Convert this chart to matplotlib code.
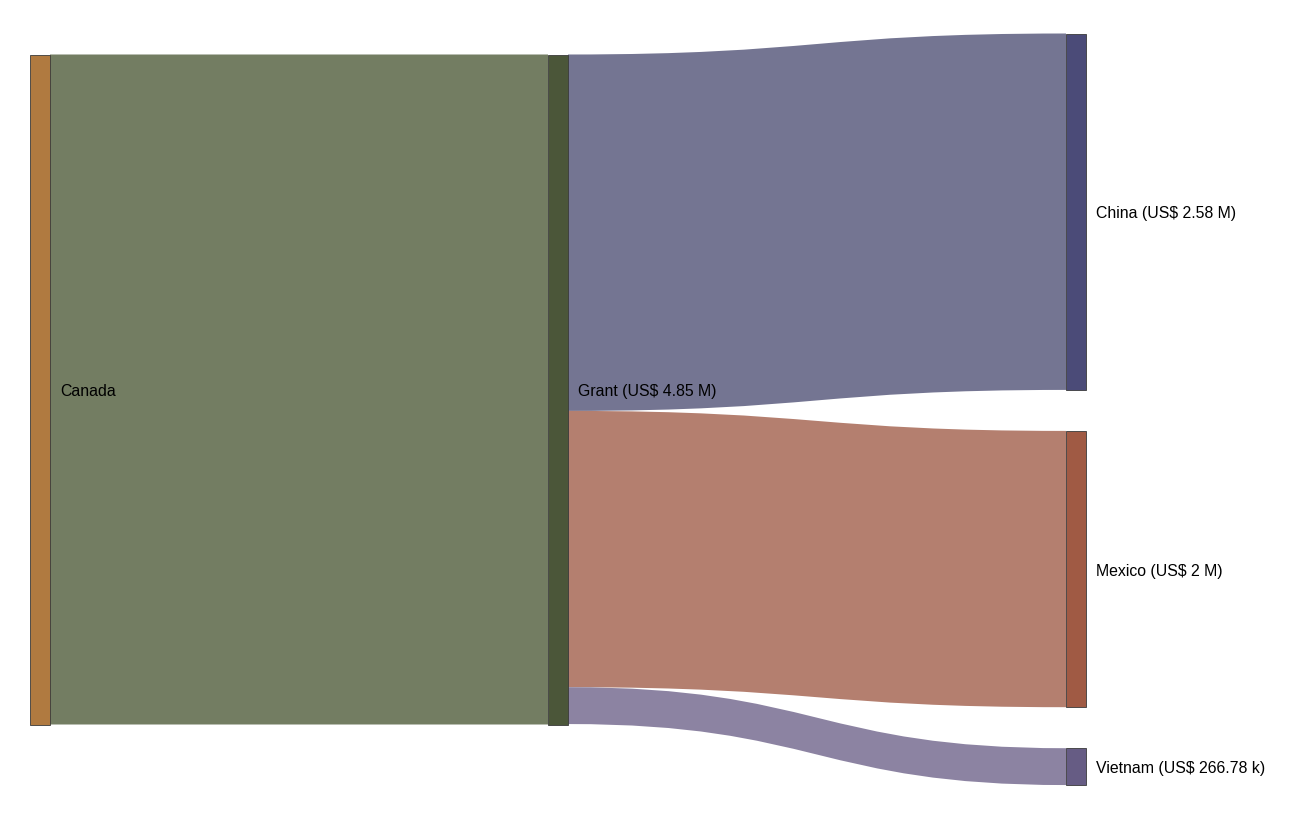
import numpy as np
import matplotlib.pyplot as plt
from matplotlib.path import Path
from matplotlib.patches import PathPatch, Rectangle

plt.rcParams['font.family'] = ['Liberation Sans', 'DejaVu Sans']

# data
donor = "Canada"
channel = "Grant (US$ 4.85 M)"
recipients = ["China (US$ 2.58 M)", "Mexico (US$ 2 M)", "Vietnam (US$ 266.78 k)"]
amounts = [2.58, 2.0, 0.26678]  # US$ millions
total = 4.85

node_colors = {"donor": "#b07a40", "channel": "#4b5639",
               "China": "#4b4b78", "Mexico": "#a05a44", "Vietnam": "#665c84"}
link_colors = ["#747592", "#b47f6f", "#8c83a2"]
donor_link_color = "#737d62"

fig = plt.figure(figsize=(13, 8.2), dpi=100)
ax = fig.add_axes([0, 0, 1, 1])
ax.set_xlim(0, 1300)
ax.set_ylim(820, 0)
ax.axis("off")

node_w = 20
x_cols = [30, 548, 1066]
top = 55.5
height = 670
scale = height / total
right_top = 34.5
gap = 41
fs = 11.4


def node(x, y0, h, color):
    ax.add_patch(Rectangle((x, y0), node_w, h, facecolor=color,
                           edgecolor="#3a3a3a", linewidth=0.6, alpha=1, zorder=3))


def link(x0, y0a, y0b, x1, y1a, y1b, color):
    xm = (x0 + x1) / 2
    verts = [(x0, y0a), (xm, y0a), (xm, y1a), (x1, y1a),
             (x1, y1b), (xm, y1b), (xm, y0b), (x0, y0b), (x0, y0a)]
    codes = [Path.MOVETO, Path.CURVE4, Path.CURVE4, Path.CURVE4,
             Path.LINETO, Path.CURVE4, Path.CURVE4, Path.CURVE4, Path.CLOSEPOLY]
    ax.add_patch(PathPatch(Path(verts, codes), facecolor=color,
                           edgecolor="none", zorder=1))


# donor -> channel
link(x_cols[0] + node_w, top, top + height, x_cols[1], top, top + height, donor_link_color)
node(x_cols[0], top, height, node_colors["donor"])
node(x_cols[1], top, height, node_colors["channel"])
ax.text(x_cols[0] + node_w + 10, top + height / 2 + 1, donor, va="center", ha="left", fontsize=fs, zorder=4)
ax.text(x_cols[1] + node_w + 10, top + height / 2 + 1, channel, va="center", ha="left", fontsize=fs, zorder=4)

# channel -> recipients
ys = top
yr = right_top
keys = ["China", "Mexico", "Vietnam"]
for name, amt, lc, k in zip(recipients, amounts, link_colors, keys):
    h = amt * scale
    link(x_cols[1] + node_w, ys, ys + h, x_cols[2], yr, yr + h, lc)
    node(x_cols[2], yr, h, node_colors[k])
    ax.text(x_cols[2] + node_w + 10, yr + h / 2 + 1, name, va="center", ha="left", fontsize=fs, zorder=4)
    ys += h
    yr += h + gap

fig.savefig("out.png", dpi=100, facecolor="white")
